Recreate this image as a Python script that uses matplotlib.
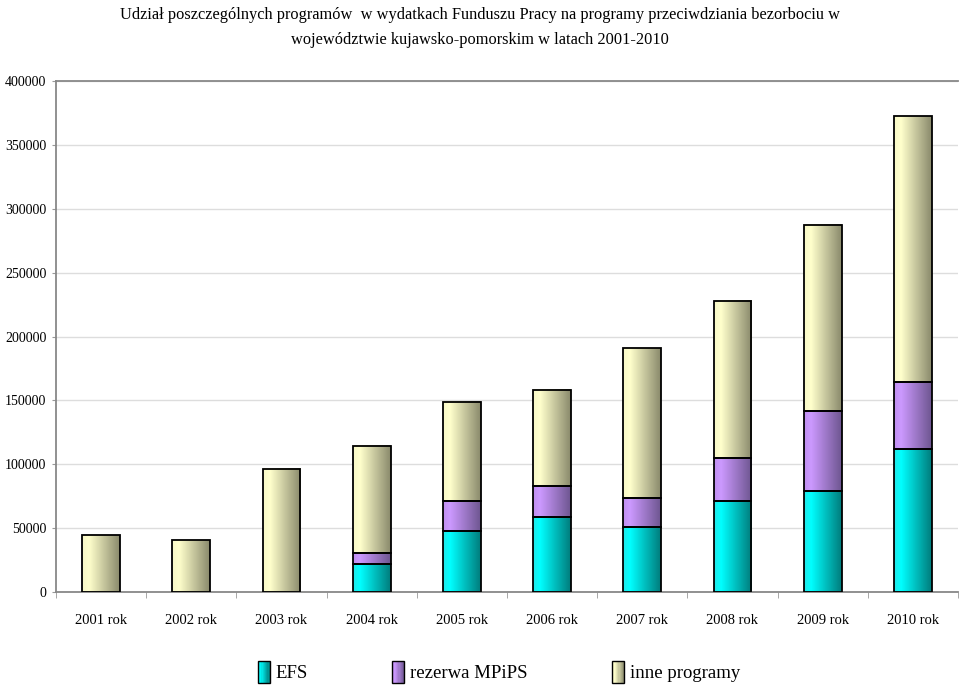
import numpy as np
import matplotlib
matplotlib.use('Agg')
from matplotlib import pyplot as plt
from matplotlib.colors import LinearSegmentedColormap
from matplotlib.patches import Rectangle
from matplotlib.legend_handler import HandlerBase

years = ['2001 rok', '2002 rok', '2003 rok', '2004 rok', '2005 rok',
         '2006 rok', '2007 rok', '2008 rok', '2009 rok', '2010 rok']
efs = [0, 0, 0, 21900, 47800, 58700, 50900, 71300, 79100, 111700]
rezerwa = [0, 0, 0, 8600, 23450, 24300, 22700, 33650, 62400, 53000]
inne = [44600, 40700, 96300, 83800, 77500, 75200, 117400, 123000, 145900, 208000]

series = [('EFS', efs, ['#22e8e8', '#00ffff', '#007c7c']),
          ('rezerwa MPiPS', rezerwa, ['#c090f0', '#cc99ff', '#6e5690']),
          ('inne programy', inne, ['#f8f8c8', '#ffffcc', '#8a8a6c'])]

plt.rcParams['font.family'] = ['Liberation Serif', 'DejaVu Serif']


class GradHandler(HandlerBase):
    # legend box filled with thin stripes so it shows the same shading
    def __init__(self, cmap):
        super().__init__()
        self.cmap = cmap

    def create_artists(self, legend, orig_handle, xdescent, ydescent, width, height, fontsize, trans):
        arts = []
        n = 10
        for i in range(n):
            r = Rectangle((-xdescent + width * i / n, -ydescent - 3), width / n, height + 6,
                          facecolor=self.cmap((i + 0.5) / n), edgecolor='none', transform=trans)
            arts.append(r)
        arts.append(Rectangle((-xdescent, -ydescent - 3), width, height + 6, facecolor='none',
                              edgecolor='black', linewidth=1.0, transform=trans))
        return arts


fig = plt.figure(figsize=(9.6, 6.86), dpi=100)
ax = fig.add_axes([56 / 960, 94 / 686, 902 / 960, 511 / 686])

x = np.arange(len(years))
width = 0.42
bottom = np.zeros(len(years))
grad = np.linspace(0, 1, 64).reshape(1, -1)
handles = []
hmap = {}
for name, vals, cols in series:
    cmap = LinearSegmentedColormap.from_list(name, [(0, cols[0]), (0.18, cols[1]), (1, cols[2])])
    vals = np.array(vals, dtype=float)
    bars = ax.bar(x, vals, width, bottom=bottom, facecolor='none',
                  edgecolor='black', linewidth=1.3, zorder=3)
    for b in bars:
        if b.get_height() <= 0:
            b.set_visible(False)
            continue
        x0, y0 = b.get_x(), b.get_y()
        ax.imshow(grad, extent=[x0, x0 + b.get_width(), y0, y0 + b.get_height()],
                  aspect='auto', cmap=cmap, zorder=2, interpolation='bilinear')
    h = Rectangle((0, 0), 1, 1, facecolor=cols[1], label=name)
    handles.append(h)
    hmap[h] = GradHandler(cmap)
    bottom += vals

ax.set_xlim(-0.5, len(years) - 0.5)
ax.set_ylim(0, 400000)
ax.set_yticks(np.arange(0, 400001, 50000))
ax.set_yticklabels([str(v) for v in range(0, 400001, 50000)], fontsize=10)
ax.set_xticks(x)
ax.set_xticklabels(years, fontsize=10.5)
ax.set_xticks(np.arange(-0.5, len(years), 1), minor=True)
ax.tick_params(axis='x', which='major', length=0, pad=16)
ax.tick_params(axis='x', which='minor', length=4, color='#999999')
ax.tick_params(axis='y', length=3, color='#999999', pad=4)
ax.grid(axis='y', color='#dddddd', linewidth=1, zorder=0)
ax.set_axisbelow(True)
for s in ['left', 'bottom', 'top']:
    ax.spines[s].set_color('#888888')
    ax.spines[s].set_linewidth(1.3)
ax.spines['right'].set_visible(False)

fig.text(0.5, 0.99, 'Udział poszczególnych programów  w wydatkach Funduszu Pracy na programy przeciwdziania bezorbociu w\nwojewództwie kujawsko-pomorskim w latach 2001-2010',
         ha='center', va='top', fontsize=11.8, linespacing=1.75)

fig.legend(handles=handles, handler_map=hmap, loc='center', ncol=3, frameon=False,
           bbox_to_anchor=(0.52, 0.018), fontsize=13.5, handlelength=0.64, handleheight=0.75,
           handletextpad=0.32, columnspacing=4.5)

fig.savefig('out.png', dpi=100)
